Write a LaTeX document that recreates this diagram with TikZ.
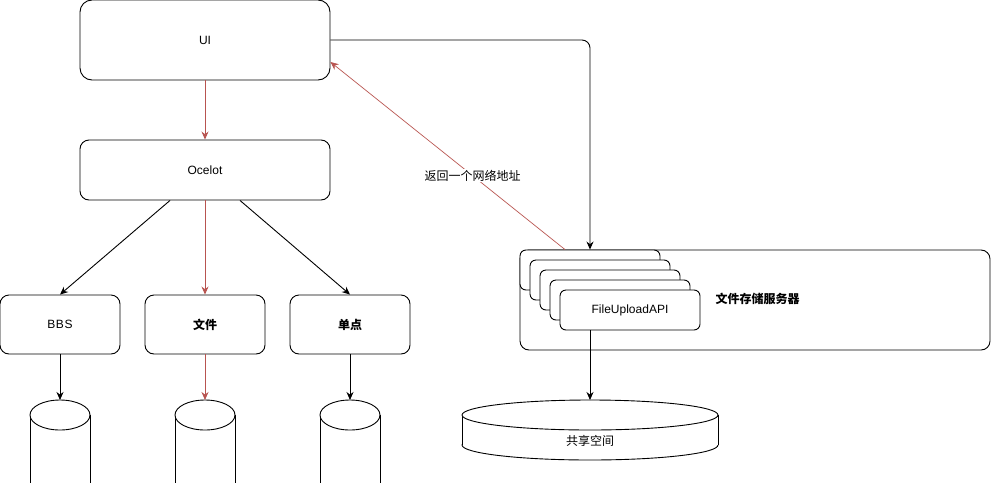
\documentclass[tikz,border=0pt]{standalone}
\usepackage{fontspec}
\setmainfont{Liberation Sans}
\newfontfamily\cjk{Noto Sans CJK SC}
\usetikzlibrary{arrows.meta}
\definecolor{redline}{HTML}{B85450}
\begin{document}
\begin{tikzpicture}[x=1pt,y=-1pt,
  every node/.style={font=\fontsize{12}{14}\selectfont},
  box/.style={draw, line width=0.9pt, rounded corners=9pt, fill=white, inner sep=0pt},
  stackbox/.style={draw, line width=0.9pt, rounded corners=6pt, fill=white, minimum width=140pt, minimum height=40pt, inner sep=0pt},
  conn/.style={line width=0.9pt, -{Stealth[length=8pt,width=7pt]}},
  redconn/.style={conn, draw=redline},
  cyl/.style={draw, line width=0.9pt, fill=white}
]
\useasboundingbox (0,0) rectangle (992,482);
\clip (0,0) rectangle (992,482);

% top boxes
\node[box, rounded corners=12pt, minimum width=250pt, minimum height=80pt] (ui) at (205,40) {UI};
\node[box, minimum width=250pt, minimum height=60pt] (ocelot) at (205,170) {Ocelot};
\node[box, minimum width=120pt, minimum height=59pt] (bbs) at (60,324.5) {B\kern0.6pt B\kern0.6pt S};
\node[box, minimum width=120pt, minimum height=59pt, font=\fontsize{12}{14}\selectfont\cjk\bfseries] (file) at (205,324.5) {文件};
\node[box, minimum width=120pt, minimum height=59pt, font=\fontsize{12}{14}\selectfont\cjk\bfseries] (sso) at (350,324.5) {单点};

% small cylinders
\foreach \cx/\nm in {60/cA,205/cB,350/cC}{
  \draw[cyl] (\cx-30,415) rectangle (\cx+30,500);
  \draw[cyl] (\cx,415) ellipse (30 and 15);
  \coordinate (\nm) at (\cx,400);
}

% container
\node[box, minimum width=470pt, minimum height=100pt] (store) at (755,300) {};
\node[font=\fontsize{12}{14}\selectfont\cjk\bfseries, anchor=west] (storelbl) at (712,299) {文件存储服务器};
\node[stackbox] (s1) at (590,270) {};
\node[stackbox] (s2) at (600,280) {};
\node[stackbox] (s3) at (610,290) {};
\node[stackbox] (s4) at (620,300) {};
\node[stackbox] (api) at (630,310) {FileUploadAPI};

% big cylinder
\draw[cyl] (590,445) ellipse (128 and 15);
\fill[white] (462,415) rectangle (718,445);
\draw[line width=0.9pt] (462,415) -- (462,445) (718,415) -- (718,445);
\draw[cyl] (590,415) ellipse (128 and 15);
\coordinate (shared) at (590,400);
\node[font=\fontsize{12}{14}\selectfont\cjk] (sharedlbl) at (590,441) {共享空间};

% connectors
\draw[redconn] (ui.south) -- (ocelot.north);
\draw[conn] (ocelot.south -| 170,0) -- (bbs.north);
\draw[redconn] (ocelot.south) -- (file.north);
\draw[conn] (ocelot.south -| 240,0) -- (sso.north);
\draw[conn] (bbs.south) -- (cA);
\draw[redconn] (file.south) -- (cB);
\draw[conn] (sso.south) -- (cC);
\draw[conn, rounded corners=8pt] (ui.east |- 0,40) -- (s1.north |- 0,40) -- (s1.north);
\draw[redconn, line width=0.7pt] (s1.north -| 565,0) -- node[pos=0.394, fill=white, inner sep=1pt, font=\fontsize{12}{14}\selectfont\cjk] (retlbl) {返回一个网络地址} (ui.east |- 0,62);
\draw[conn] (api.south -| shared) -- (shared);
\end{tikzpicture}
\end{document}
